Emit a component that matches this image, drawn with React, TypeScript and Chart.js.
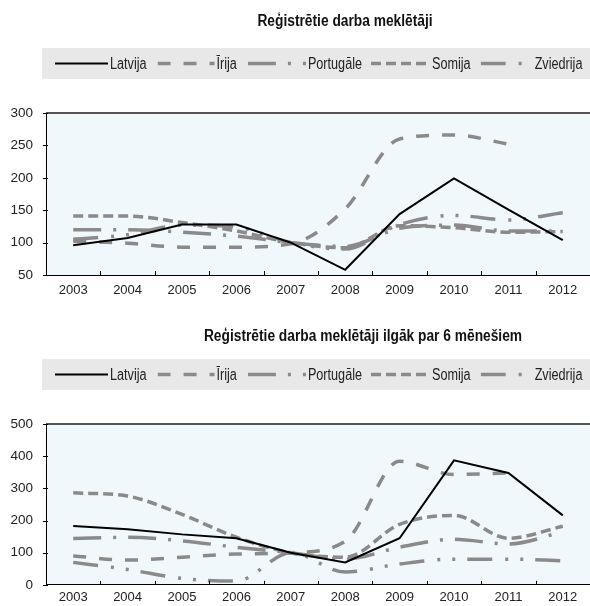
import React, { useEffect, useRef } from "react";
import { Chart, registerables } from "chart.js";

Chart.register(...registerables);

// ---- data ----
const years = ["2003", "2004", "2005", "2006", "2007", "2008", "2009", "2010", "2011", "2012"];
const seriesNames = ["Latvija", "Īrija", "Portugāle", "Somija", "Zviedrija"];

const title1 = "Reģistrētie darba meklētāji";
const title2 = "Reģistrētie darba meklētāji ilgāk par 6 mēnešiem";

const regLatvija = [96, 107, 128, 128, 100, 58, 144, 199, 151, 104];
const regIrija = [102, 99, 93, 93, 98, 152, 260, 266, 252, null];
const regPortugale = [120, 120, 116, 110, 100, 94, 122, 127, 118, 118];
const regSomija = [141, 141, 131, 118, 100, 92, 126, 123, 116, 117];
const regZviedrija = [105, 112, 127, 124, 100, 90, 128, 142, 135, 146];

const longLatvija = [183, 173, 157, 145, 100, 70, 145, 387, 348, 216];
const longIrija = [90, 77, 86, 96, 100, 135, 384, 343, 348, null];
const longPortugale = [144, 148, 137, 117, 100, 80, 117, 142, 127, 165];
const longSomija = [286, 276, 219, 148, 100, 86, 188, 216, 145, 182];
const longZviedrija = [70, 48, 20, 12, 100, 40, 65, 80, 80, 75];

const yTicks1 = [50, 100, 150, 200, 250, 300];
const yTicks2 = [0, 100, 200, 300, 400, 500];

// ---- styles ----
const FONT = "'Liberation Sans', Arial, sans-serif";
const GRAY = "#8a8a8a";
const styles = [
  { color: "#000000", dash: [] as number[], width: 2, smooth: false, sample: 53, gap: 11 },
  { color: GRAY, dash: [13, 13], width: 3.5, smooth: true, sample: 57, gap: 11 },
  { color: GRAY, dash: [28, 12, 3, 12], width: 3.5, smooth: true, sample: 58, gap: 9 },
  { color: GRAY, dash: [10, 5], width: 3.5, smooth: true, sample: 59, gap: 10 },
  { color: GRAY, dash: [25, 13, 3, 12, 3, 12], width: 3.5, smooth: true, sample: 52, gap: 10 },
];

function narrowText(ctx: CanvasRenderingContext2D, text: string, x: number, y: number, align: "left" | "center", k: number) {
  ctx.save();
  ctx.translate(x, y);
  ctx.scale(k, 1);
  ctx.textAlign = align;
  ctx.fillText(text, 0, 0);
  ctx.restore();
  return ctx.measureText(text).width * k;
}

const decorPlugin = {
  id: "decor",
  beforeDraw(chart: any) {
    const { ctx, chartArea: a } = chart;
    ctx.save();
    ctx.fillStyle = "#f0f8fc";
    ctx.fillRect(a.left, a.top, a.right - a.left, a.bottom - a.top);
    ctx.restore();
  },
  afterDraw(chart: any, _args: any, opts: any) {
    const { ctx, chartArea: a } = chart;
    ctx.save();
    // top frame line
    ctx.strokeStyle = "#555555";
    ctx.lineWidth = 2;
    ctx.beginPath();
    ctx.moveTo(a.left, a.top);
    ctx.lineTo(a.right, a.top);
    ctx.stroke();
    // inner x tick marks at category boundaries
    const xs = chart.scales.x;
    ctx.strokeStyle = "#000";
    ctx.lineWidth = 1;
    for (let i = 0; i < years.length - 1; i++) {
      const px = Math.round((xs.getPixelForValue(i) + xs.getPixelForValue(i + 1)) / 2) + 0.5;
      ctx.beginPath();
      ctx.moveTo(px, a.bottom);
      ctx.lineTo(px, a.bottom - 4);
      ctx.stroke();
    }
    // small y tick marks
    const ys = chart.scales.y;
    ys.ticks.forEach((t: any) => {
      const py = Math.round(ys.getPixelForValue(t.value)) + 0.5;
      ctx.beginPath();
      ctx.moveTo(a.left - 3, py);
      ctx.lineTo(a.left + 2, py);
      ctx.stroke();
    });
    // title
    ctx.fillStyle = "#111";
    ctx.font = `bold 16px ${FONT}`;
    ctx.textBaseline = "middle";
    narrowText(ctx, opts.title, opts.titleX, opts.titleY, "center", 0.86);
    // legend box
    ctx.fillStyle = "#e8e8e8";
    ctx.fillRect(42, 48, chart.width - 42, 31);
    const cy = 63.5;
    let x = 55;
    ctx.font = `16px ${FONT}`;
    chart.data.datasets.forEach((ds: any, i: number) => {
      const st = styles[i];
      ctx.save();
      ctx.beginPath();
      ctx.rect(x, cy - 5, st.sample, 10);
      ctx.clip();
      ctx.strokeStyle = ds.borderColor;
      ctx.lineWidth = ds.borderWidth;
      ctx.setLineDash(ds.borderDash || []);
      ctx.beginPath();
      ctx.moveTo(x, cy);
      ctx.lineTo(x + st.sample + 20, cy);
      ctx.stroke();
      ctx.restore();
      ctx.fillStyle = "#222";
      const w = narrowText(ctx, ds.label, x + st.sample + 2, cy + 1, "left", 0.79);
      x = x + st.sample + 2 + w + st.gap;
    });
    ctx.restore();
  },
};

type Props = {
  top: number;
  height: number;
  title: string;
  titleX: number;
  titleY: number;
  series: (number | null)[][];
  yTicks: number[];
  xPad: number;
};

function LineChart(p: Props) {
  const ref = useRef<HTMLCanvasElement | null>(null);
  useEffect(() => {
    if (!ref.current) return;
    const yMin = p.yTicks[0];
    const yMax = p.yTicks[p.yTicks.length - 1];
    const step = p.yTicks[1] - p.yTicks[0];
    const chart = new Chart(ref.current, {
      type: "line",
      data: {
        labels: years,
        datasets: p.series.map((d, i) => ({
          label: seriesNames[i],
          data: d,
          borderColor: styles[i].color,
          borderWidth: styles[i].width,
          borderDash: styles[i].dash,
          tension: styles[i].smooth ? 0.4 : 0,
          cubicInterpolationMode: styles[i].smooth ? "monotone" : "default",
          pointRadius: 0,
          fill: false,
          borderCapStyle: "butt",
        })),
      },
      options: {
        animation: false,
        responsive: false,
        maintainAspectRatio: false,
        devicePixelRatio: 1,
        layout: { padding: { top: 113, left: 0, right: 0, bottom: 0 } },
        plugins: {
          legend: { display: false },
          title: { display: false },
          tooltip: { enabled: false },
          decor: { title: p.title, titleX: p.titleX, titleY: p.titleY },
        } as any,
        scales: {
          x: {
            offset: true,
            grid: { display: false, drawTicks: false, offset: true },
            border: { display: true, color: "#000", width: 1 },
            ticks: { color: "#222", font: { family: FONT, size: 13 }, padding: p.xPad, maxRotation: 0, autoSkip: false },
            afterFit: (s: any) => {
              s.height = p.height - 275;
            },
          },
          y: {
            min: yMin,
            max: yMax,
            grid: { display: false, drawTicks: false },
            border: { display: true, color: "#000", width: 1 },
            ticks: { stepSize: step, color: "#222", font: { family: FONT, size: 13.5 }, padding: 13 },
            afterFit: (s: any) => {
              s.width = 46;
            },
          },
        },
      },
      plugins: [decorPlugin],
    } as any);
    return () => chart.destroy();
  }, []);
  return (
    <canvas
      ref={ref}
      width={590}
      height={p.height}
      style={{ position: "absolute", left: 0, top: p.top, width: 590, height: p.height }}
    />
  );
}

export default function App() {
  return (
    <div style={{ position: "fixed", left: 0, top: 0, width: 590, height: 606, background: "#fff", overflow: "hidden" }}>
      <LineChart
        top={0}
        height={300}
        title={title1}
        titleX={345}
        titleY={22}
        series={[regLatvija, regIrija, regPortugale, regSomija, regZviedrija]}
        yTicks={yTicks1}
        xPad={8}
      />
      <LineChart
        top={311}
        height={295}
        title={title2}
        titleX={363}
        titleY={26}
        series={[longLatvija, longIrija, longPortugale, longSomija, longZviedrija]}
        yTicks={yTicks2}
        xPad={5}
      />
    </div>
  );
}
